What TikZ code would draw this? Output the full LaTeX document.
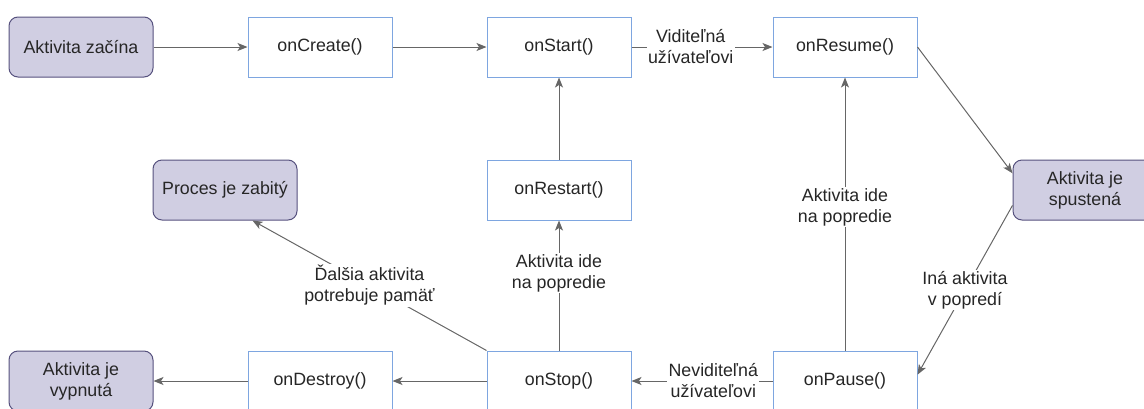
\documentclass[tikz,border=0pt]{standalone}
\usepackage{fontspec}
\setmainfont{Liberation Sans}
\usetikzlibrary{arrows.meta}

\definecolor{boxline}{HTML}{7EA6E0}
\definecolor{statefill}{HTML}{D0CEE2}
\definecolor{stateline}{HTML}{56517E}
\definecolor{arrowgray}{HTML}{666666}
\definecolor{txt}{HTML}{262626}

\tikzset{
  callback/.style={draw=boxline,fill=white,line width=1pt,minimum width=144pt,minimum height=60pt,inner sep=0pt},
  state/.style={draw=stateline,fill=statefill,line width=1pt,rounded corners=9pt,minimum width=144pt,minimum height=60pt,inner sep=0pt,align=center},
  flow/.style={draw=arrowgray,line width=1pt,-{Stealth[length=10pt,width=8pt,inset=2.5pt]}},
  lbl/.style={fill=white,inner sep=1.5pt,align=center,text=txt}
}

\begin{document}
\begin{tikzpicture}[x=1pt,y=-1pt,font=\fontsize{17.8}{21}\selectfont,text=txt]
\useasboundingbox (0,0) rectangle (1144,408);
\clip (0,0) rectangle (1144,408);

% top row
\node[state] (zacina) at (81,47) {Aktivita začína};
\node[callback] (create) at (320,47) {onCreate()};
\node[callback] (start) at (559,47) {onStart()};
\node[callback] (resume) at (845,47) {onResume()};

% middle row
\node[state] (zabity) at (225,190) {Proces je zabitý};
\node[callback] (restart) at (559,190) {onRestart()};
\node[state] (spustena) at (1085,190) {Aktivita je\\spustená};

% bottom row
\node[state] (vypnuta) at (81,381) {Aktivita je\\vypnutá};
\node[callback] (destroy) at (320,381) {onDestroy()};
\node[callback] (stop) at (559,381) {onStop()};
\node[callback] (pause) at (845,381) {onPause()};

% arrows
\draw[flow] (zacina) -- (create);
\draw[flow] (create) -- (start);
\draw[flow] (start) -- node[lbl,pos=0.42] {Viditeľná\\užívateľovi} (resume);
\draw[flow] (resume.east) -- (spustena.167);
\draw[flow] (spustena.192) -- node[lbl,pos=0.5] {Iná aktivita\\v popredí} (pause.5);
\draw[flow] (pause) -- node[lbl,pos=0.42] {Neviditeľná\\užívateľovi} (stop);
\draw[flow] (pause) -- node[lbl,pos=0.525] {Aktivita ide\\na popredie} (resume);
\draw[flow] (stop) -- node[lbl,pos=0.595] {Aktivita ide\\na popredie} (restart);
\draw[flow] (restart) -- (start);
\draw[flow] (stop.north west) -- node[lbl,pos=0.5] {Ďalšia aktivita\\potrebuje pamäť} (zabity.-48);
\draw[flow] (stop) -- (destroy);
\draw[flow] (destroy) -- (vypnuta);
\end{tikzpicture}
\end{document}
